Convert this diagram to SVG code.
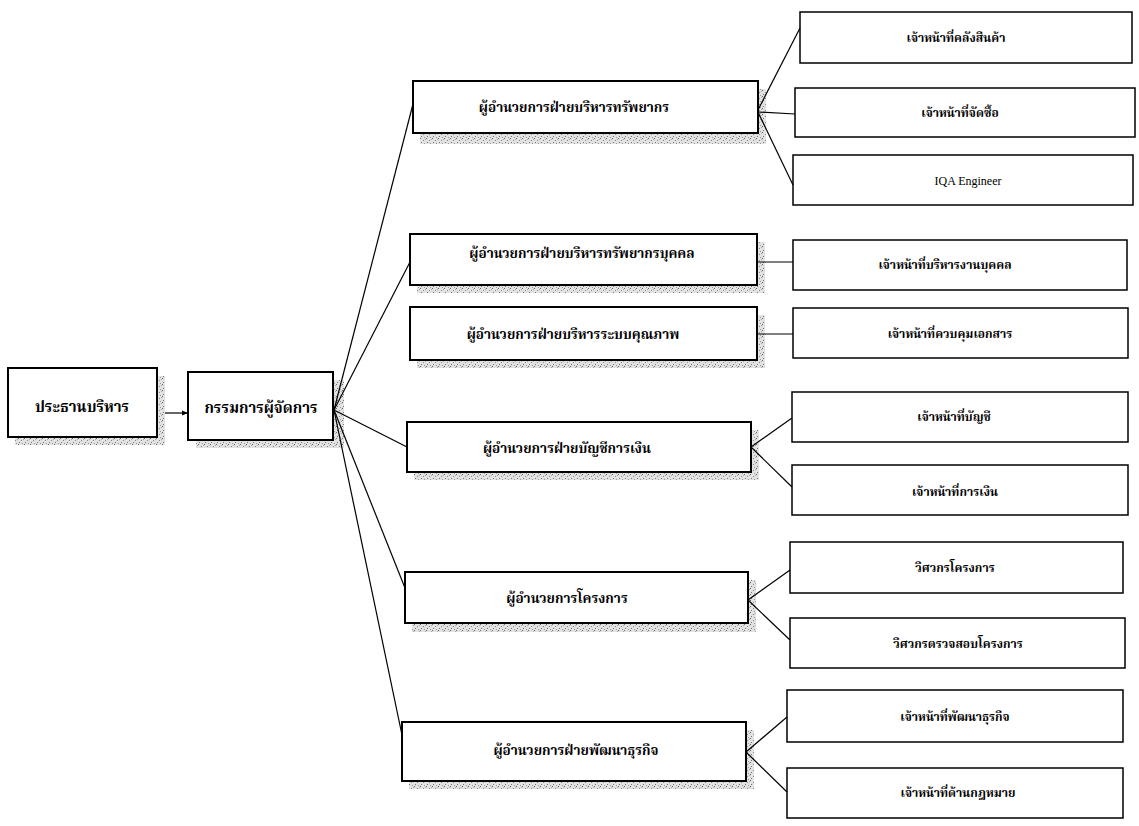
<svg xmlns="http://www.w3.org/2000/svg" width="1139" height="826" viewBox="0 0 1139 826">
<style>
.bx{fill:#fff;stroke:#000;stroke-width:2}
.bx3{fill:#fff;stroke:#000;stroke-width:1.5}
.sh{fill:url(#stip)}
.t1{font-family:"Liberation Serif","Noto Serif Thai","Noto Sans Thai","Garuda","Loma",serif;font-weight:bold;font-size:15px;fill:#000;text-anchor:middle}
.t{font-family:"Liberation Serif","Noto Serif Thai","Noto Sans Thai","Garuda","Loma",serif;font-weight:bold;font-size:13.5px;fill:#000;text-anchor:middle}
.t3{font-family:"Liberation Serif","Noto Serif Thai","Noto Sans Thai","Garuda","Loma",serif;font-weight:bold;font-size:12px;fill:#000;text-anchor:middle}
.en{font-family:"Liberation Serif",serif;font-weight:normal;font-size:12px;fill:#000;text-anchor:middle}
.c{stroke:#000;stroke-width:1.2;fill:none}
</style>
<defs>
<pattern id="stip" width="6" height="6" patternUnits="userSpaceOnUse">
<rect width="6" height="6" fill="#e2e2e2"/>
<rect x="0" y="0" width="1" height="1" fill="#666"/>
<rect x="3" y="2" width="1" height="1" fill="#888"/>
<rect x="1" y="4" width="1" height="1" fill="#777"/>
<rect x="4" y="5" width="1" height="1" fill="#999"/>
<rect x="5" y="1" width="1" height="1" fill="#aaa"/>
</pattern>
<marker id="ah" viewBox="0 0 10 10" refX="10" refY="5" markerWidth="6" markerHeight="6" orient="auto" markerUnits="userSpaceOnUse">
<path d="M0,1 L10,5 L0,9 z" fill="#000"/>
</marker>
</defs>
<rect width="1139" height="826" fill="#fff"/>

<g id="n-president">
<rect class="sh" x="15" y="376" width="150" height="69"/>
<rect class="bx" x="8" y="368" width="149" height="69"/>
<text class="t1" x="82" y="412">ประธานบริหาร</text>
</g>
<g id="n-md">
<rect class="sh" x="196" y="380" width="148" height="68"/>
<rect class="bx" x="188" y="372" width="145" height="68"/>
<text class="t1" x="261" y="413">กรรมการผู้จัดการ</text>
</g>

<g id="n-resource">
<rect class="sh" x="420" y="89" width="346" height="55"/>
<rect class="bx" x="413" y="81" width="345" height="52"/>
<text class="t" x="574" y="112">ผู้อำนวยการฝ่ายบริหารทรัพยากร</text>
</g>
<g id="n-hr">
<rect class="sh" x="417" y="242" width="348" height="51"/>
<rect class="bx" x="410" y="234" width="347" height="51"/>
<text class="t" x="582" y="258">ผู้อำนวยการฝ่ายบริหารทรัพยากรบุคคล</text>
</g>
<g id="n-quality">
<rect class="sh" x="417" y="315" width="348" height="53"/>
<rect class="bx" x="410" y="307" width="347" height="53"/>
<text class="t" x="573" y="339">ผู้อำนวยการฝ่ายบริหารระบบคุณภาพ</text>
</g>
<g id="n-finance">
<rect class="sh" x="414" y="430" width="345" height="50"/>
<rect class="bx" x="407" y="422" width="344" height="50"/>
<text class="t" x="567" y="453">ผู้อำนวยการฝ่ายบัญชีการเงิน</text>
</g>
<g id="n-project">
<rect class="sh" x="412" y="580" width="344" height="52"/>
<rect class="bx" x="405" y="572" width="343" height="51"/>
<text class="t" x="567" y="603">ผู้อำนวยการโครงการ</text>
</g>
<g id="n-bizdev">
<rect class="sh" x="409" y="730" width="345" height="59"/>
<rect class="bx" x="402" y="722" width="344" height="59"/>
<text class="t" x="576" y="755">ผู้อำนวยการฝ่ายพัฒนาธุรกิจ</text>
</g>

<g id="n-warehouse">
<rect class="bx3" x="800" y="12" width="332" height="51"/>
<text class="t3" x="956" y="42">เจ้าหน้าที่คลังสินค้า</text>
</g>
<g id="n-purchase">
<rect class="bx3" x="795" y="88" width="340" height="49"/>
<text class="t3" x="960" y="117">เจ้าหน้าที่จัดซื้อ</text>
</g>
<g id="n-iqa">
<rect class="bx3" x="793" y="155" width="340" height="50"/>
<text class="en" x="968" y="185">IQA Engineer</text>
</g>
<g id="n-personnel">
<rect class="bx3" x="793" y="240" width="334" height="50"/>
<text class="t3" x="945" y="269">เจ้าหน้าที่บริหารงานบุคคล</text>
</g>
<g id="n-document">
<rect class="bx3" x="793" y="308" width="335" height="50"/>
<text class="t3" x="950" y="338">เจ้าหน้าที่ควบคุมเอกสาร</text>
</g>
<g id="n-accounting">
<rect class="bx3" x="792" y="392" width="336" height="50"/>
<text class="t3" x="954" y="421">เจ้าหน้าที่บัญชี</text>
</g>
<g id="n-financeoff">
<rect class="bx3" x="792" y="465" width="336" height="50"/>
<text class="t3" x="955" y="496">เจ้าหน้าที่การเงิน</text>
</g>
<g id="n-projeng">
<rect class="bx3" x="790" y="542" width="333" height="51"/>
<text class="t3" x="955" y="572">วิศวกรโครงการ</text>
</g>
<g id="n-inspeng">
<rect class="bx3" x="790" y="618" width="335" height="50"/>
<text class="t3" x="958" y="648">วิศวกรตรวจสอบโครงการ</text>
</g>
<g id="n-bizoff">
<rect class="bx3" x="787" y="690" width="336" height="52"/>
<text class="t3" x="955" y="721">เจ้าหน้าที่พัฒนาธุรกิจ</text>
</g>
<g id="n-legal">
<rect class="bx3" x="787" y="768" width="336" height="50"/>
<text class="t3" x="958" y="797">เจ้าหน้าที่ด้านกฎหมาย</text>
</g>

<g id="connectors">
<line class="c" x1="165" y1="413" x2="188" y2="413" marker-end="url(#ah)"/>
<line class="c" x1="334" y1="410" x2="413" y2="104"/>
<line class="c" x1="334" y1="410" x2="410" y2="262"/>
<line class="c" x1="334" y1="410" x2="407" y2="447"/>
<line class="c" x1="334" y1="410" x2="405" y2="588"/>
<line class="c" x1="334" y1="410" x2="402" y2="735"/>
<line class="c" x1="758" y1="110" x2="800" y2="28"/>
<line class="c" x1="758" y1="112" x2="795" y2="114"/>
<line class="c" x1="758" y1="112" x2="793" y2="185"/>
<line class="c" x1="757" y1="262" x2="793" y2="262"/>
<line class="c" x1="757" y1="334" x2="793" y2="334"/>
<line class="c" x1="751" y1="447" x2="792" y2="418"/>
<line class="c" x1="751" y1="447" x2="792" y2="487"/>
<line class="c" x1="748" y1="600" x2="790" y2="570"/>
<line class="c" x1="748" y1="600" x2="790" y2="640"/>
<line class="c" x1="746" y1="752" x2="787" y2="717"/>
<line class="c" x1="746" y1="752" x2="787" y2="792"/>
</g>
</svg>
